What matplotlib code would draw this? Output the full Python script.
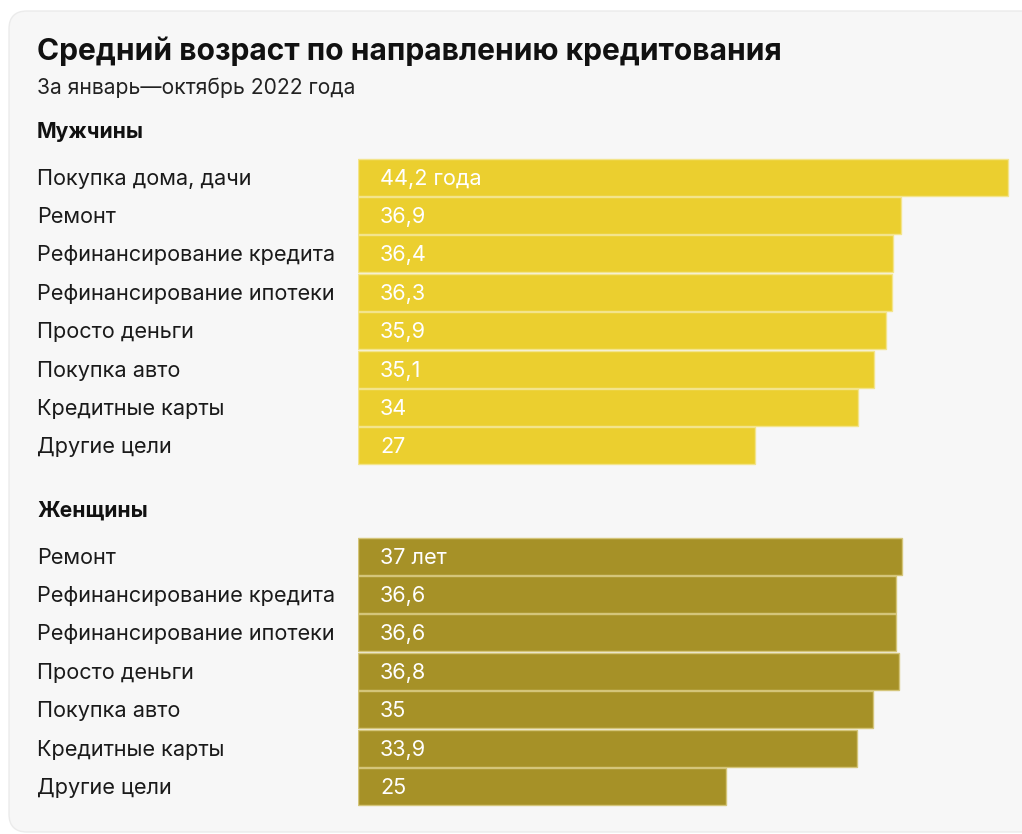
import matplotlib.pyplot as plt
from matplotlib.patches import FancyBboxPatch

plt.rcParams['font.family'] = ['Inter', 'DejaVu Sans']

title = "Средний возраст по направлению кредитования"
subtitle = "За январь\u2014октябрь 2022 года"

men_cats = ["Покупка дома, дачи", "Ремонт", "Рефинансирование кредита",
            "Рефинансирование ипотеки", "Просто деньги", "Покупка авто",
            "Кредитные карты", "Другие цели"]
men_vals = [44.2, 36.9, 36.4, 36.3, 35.9, 35.1, 34, 27]
men_labels = ["44,2 года", "36,9", "36,4", "36,3", "35,9", "35,1", "34", "27"]

women_cats = ["Ремонт", "Рефинансирование кредита", "Рефинансирование ипотеки",
              "Просто деньги", "Покупка авто", "Кредитные карты", "Другие цели"]
women_vals = [37, 36.6, 36.6, 36.8, 35, 33.9, 25]
women_labels = ["37 лет", "36,6", "36,6", "36,8", "35", "33,9", "25"]

W, H = 1022, 834
fig = plt.figure(figsize=(W / 100, H / 100), dpi=100)
fig.patch.set_facecolor('white')

# card background
bg = fig.add_axes([0, 0, 1, 1])
bg.set_xlim(0, W)
bg.set_ylim(H, 0)
bg.axis('off')
bg.add_patch(FancyBboxPatch((9, 11), W + 40, H - 13, boxstyle="round,pad=0,rounding_size=18",
                            fc='#f7f7f7', ec='#ebebeb', lw=1))

bg.text(37, 51, title, fontsize=21.6, fontweight='bold', va='center', color='#111111')
bg.text(37, 88, subtitle, fontsize=15.2, va='center', color='#222222')
bg.text(37, 132, "Мужчины", fontsize=15.2, fontweight='bold', va='center', color='#111111')
bg.text(37, 511, "Женщины", fontsize=15.2, fontweight='bold', va='center', color='#111111')

# bar axes: x from pixel 358 to the right edge
x0 = 358
px_per_unit = 650 / 44.2
ax = fig.add_axes([x0 / W, 0, (W - x0) / W, 1])
ax.set_xlim(0, (W - x0) / px_per_unit)
ax.set_ylim(H, 0)
ax.axis('off')

step = 38.4
groups = [
    (men_cats, men_vals, men_labels, 177, '#ebcf2f', '#f3e48c'),
    (women_cats, women_vals, women_labels, 556, '#a69127', '#d4c57a'),
]
for cats, vals, labels, y0, col, edge in groups:
    ys = [y0 + i * step for i in range(len(cats))]
    ax.barh(ys, vals, height=37, left=0, color=col, edgecolor=edge, linewidth=1)
    for y, c, lab in zip(ys, cats, labels):
        bg.text(37, y + 1.5, c, fontsize=15.6, va='center', color='#1a1a1a')
        ax.text(1.5, y + 1.5, lab, fontsize=15.6, va='center', color='white')

fig.savefig('out.png', dpi=100, facecolor=fig.get_facecolor())
